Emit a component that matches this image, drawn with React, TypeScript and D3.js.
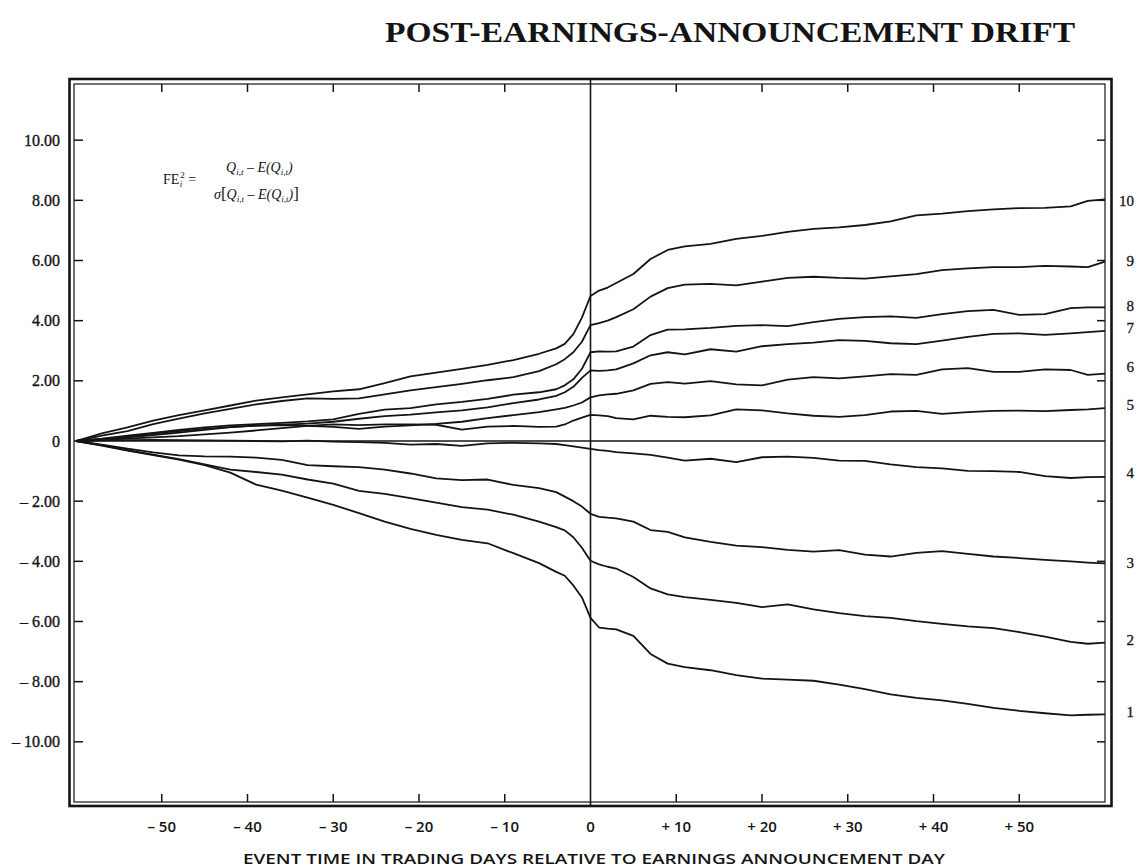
import React from "react";
import * as d3 from "d3";

// Event days (relative to earnings announcement day)
const days = [-60,-57,-54,-51,-48,-45,-42,-39,-36,-33,-30,-27,-24,-21,-18,-15,-12,-9,-6,-4,-3,-2,-1,0,1,2,3,5,7,9,11,14,17,20,23,26,29,32,35,38,41,44,47,50,53,56,58,60];

// Cumulative abnormal returns (%) by SUE portfolio
const p10 = [0,0.25,0.45,0.68,0.86,1.02,1.18,1.34,1.45,1.55,1.65,1.72,1.92,2.15,2.27,2.40,2.53,2.69,2.90,3.08,3.23,3.55,4.10,4.82,5.00,5.10,5.25,5.55,6.05,6.35,6.47,6.55,6.72,6.82,6.95,7.05,7.10,7.18,7.30,7.50,7.56,7.64,7.70,7.74,7.75,7.80,7.98,8.03];
const p9 = [0,0.18,0.33,0.56,0.74,0.92,1.07,1.22,1.33,1.42,1.40,1.42,1.55,1.68,1.79,1.90,2.02,2.12,2.32,2.55,2.72,2.95,3.30,3.85,3.92,4.00,4.12,4.38,4.80,5.08,5.20,5.22,5.17,5.30,5.42,5.46,5.42,5.40,5.47,5.55,5.68,5.74,5.78,5.78,5.82,5.80,5.78,5.96];
const p8 = [0,0.08,0.18,0.27,0.37,0.45,0.52,0.56,0.60,0.65,0.72,0.90,1.04,1.09,1.22,1.30,1.40,1.54,1.62,1.72,1.85,2.05,2.40,2.95,2.98,2.97,2.98,3.14,3.52,3.70,3.71,3.76,3.83,3.85,3.82,3.95,4.06,4.12,4.14,4.09,4.22,4.32,4.36,4.19,4.22,4.42,4.44,4.44];
const p7 = [0,0.06,0.15,0.25,0.33,0.40,0.46,0.51,0.54,0.58,0.64,0.74,0.83,0.88,0.95,1.02,1.12,1.26,1.38,1.50,1.62,1.80,2.10,2.35,2.33,2.35,2.38,2.58,2.85,2.95,2.88,3.05,2.97,3.15,3.22,3.27,3.35,3.33,3.25,3.22,3.34,3.46,3.56,3.58,3.53,3.58,3.62,3.66];
const p6 = [0,0.05,0.12,0.20,0.28,0.37,0.46,0.51,0.53,0.50,0.47,0.40,0.48,0.52,0.57,0.64,0.76,0.86,0.96,1.05,1.10,1.18,1.28,1.45,1.52,1.55,1.57,1.68,1.90,1.96,1.91,1.99,1.88,1.85,2.04,2.12,2.08,2.15,2.22,2.20,2.38,2.42,2.30,2.30,2.38,2.36,2.20,2.24];
const p5 = [0,0.04,0.08,0.12,0.16,0.22,0.28,0.35,0.43,0.50,0.55,0.53,0.55,0.55,0.54,0.38,0.48,0.50,0.47,0.48,0.55,0.68,0.78,0.87,0.85,0.83,0.76,0.72,0.84,0.80,0.79,0.85,1.05,1.02,0.92,0.84,0.80,0.86,0.98,1.00,0.90,0.96,1.00,1.01,0.99,1.03,1.05,1.09];
const p4 = [0,0.02,0.03,0.04,0.03,0.02,0.01,0.00,-0.01,0.01,-0.02,-0.04,-0.06,-0.12,-0.10,-0.16,-0.08,-0.06,-0.08,-0.10,-0.14,-0.18,-0.22,-0.26,-0.30,-0.33,-0.37,-0.41,-0.46,-0.55,-0.65,-0.59,-0.70,-0.54,-0.52,-0.56,-0.65,-0.66,-0.78,-0.87,-0.91,-0.99,-1.00,-1.03,-1.17,-1.23,-1.20,-1.19];
const p3 = [0,-0.12,-0.25,-0.38,-0.48,-0.51,-0.52,-0.55,-0.63,-0.80,-0.84,-0.87,-0.95,-1.08,-1.24,-1.30,-1.28,-1.46,-1.57,-1.70,-1.85,-2.00,-2.18,-2.42,-2.52,-2.55,-2.57,-2.68,-2.96,-3.02,-3.20,-3.35,-3.48,-3.53,-3.62,-3.68,-3.63,-3.78,-3.84,-3.72,-3.66,-3.75,-3.84,-3.89,-3.95,-4.00,-4.04,-4.07];
const p2 = [0,-0.14,-0.30,-0.45,-0.60,-0.78,-0.95,-1.03,-1.12,-1.28,-1.42,-1.66,-1.76,-1.90,-2.05,-2.20,-2.28,-2.45,-2.68,-2.86,-2.97,-3.20,-3.55,-3.98,-4.10,-4.18,-4.24,-4.52,-4.90,-5.10,-5.19,-5.28,-5.38,-5.52,-5.43,-5.60,-5.72,-5.82,-5.88,-5.99,-6.08,-6.16,-6.22,-6.35,-6.50,-6.68,-6.74,-6.70];
const p1 = [0,-0.15,-0.32,-0.47,-0.62,-0.80,-1.05,-1.45,-1.65,-1.88,-2.12,-2.40,-2.68,-2.92,-3.12,-3.29,-3.40,-3.73,-4.06,-4.35,-4.48,-4.80,-5.20,-5.88,-6.20,-6.24,-6.26,-6.48,-7.08,-7.40,-7.52,-7.62,-7.78,-7.90,-7.93,-7.97,-8.10,-8.25,-8.42,-8.54,-8.62,-8.74,-8.87,-8.97,-9.05,-9.12,-9.10,-9.09];

const portfolioNames = ["10", "9", "8", "7", "6", "5", "4", "3", "2", "1"];
const portfolioValues = [p10, p9, p8, p7, p6, p5, p4, p3, p2, p1];
// value at which each portfolio's label sits on the right margin
const labelAt = [8.0, 6.0, 4.5, 3.75, 2.46, 1.2, -1.06, -4.06, -6.6, -9.0];

const yTicks = [10, 8, 6, 4, 2, 0, -2, -4, -6, -8, -10];
const yTickLabels = ["10.00", "8.00", "6.00", "4.00", "2.00", "0", "\u2013 2.00", "\u2013 4.00", "\u2013 6.00", "\u2013 8.00", "\u2013 10.00"];
const xTicks = [-50, -40, -30, -20, -10, 0, 10, 20, 30, 40, 50];
const xTickLabels = ["\u2013 50", "\u2013 40", "\u2013 30", "\u2013 20", "\u2013 10", "0", "+ 10", "+ 20", "+ 30", "+ 40", "+ 50"];

const title = "POST-EARNINGS-ANNOUNCEMENT DRIFT";
const xTitle = "EVENT TIME IN TRADING DAYS RELATIVE TO EARNINGS ANNOUNCEMENT DAY";

export default function App() {
  const W = 1137, H = 867;
  const x = d3.scaleLinear().domain([-60, 60]).range([76, 1105]);
  const y = d3.scaleLinear().domain([-12, 12]).range([802, 80]);
  const line = d3.line<number>()
    .x((_, i) => x(days[i]))
    .y((v) => y(v))
    .curve(d3.curveLinear);

  const innerL = 74, innerR = 1105, innerT = 84, innerB = 802;
  const ink = "#141414";
  const serif = "'Liberation Serif', 'DejaVu Serif', serif";
  const sans = "'Open Sans', 'Lato', sans-serif";

  return (
    <svg width={W} height={H} viewBox={`0 0 ${W} ${H}`} style={{ position: "absolute", left: 0, top: 0, background: "#fff" }}>
      <rect x={0} y={0} width={W} height={H} fill="#fff" />
      {/* Title */}
      <text x={385} y={42} fontFamily={serif} fontSize={30} fontWeight={700} fill={ink}
        textLength={690} lengthAdjust="spacingAndGlyphs">{title}</text>

      {/* frame (double line) */}
      <rect x={69.5} y={79} width={1042} height={727} fill="none" stroke={ink} strokeWidth={2.6} />
      <rect x={innerL} y={innerT} width={innerR - innerL} height={innerB - innerT} fill="none" stroke={ink} strokeWidth={1.2} />

      {/* y ticks left & right */}
      {yTicks.filter((t) => t !== 0).map((t) => (
        <g key={"yt" + t}>
          <line x1={innerL} x2={innerL + 9} y1={y(t)} y2={y(t)} stroke={ink} strokeWidth={1.5} />
          <line x1={innerR - 8} x2={innerR} y1={y(t)} y2={y(t)} stroke={ink} strokeWidth={1.5} />
        </g>
      ))}
      {yTicks.map((t, i) => (
        <text key={"yl" + t} x={60} y={y(t)} dy="0.35em" textAnchor="end" fontFamily={serif}
          fontSize={16} fill={ink} stroke={ink} strokeWidth={0.35}>{yTickLabels[i]}</text>
      ))}

      {/* x ticks top & bottom */}
      {xTicks.filter((t) => t !== 0).map((t) => (
        <g key={"xt" + t}>
          <line x1={x(t)} x2={x(t)} y1={innerT} y2={innerT + 8} stroke={ink} strokeWidth={1.5} />
          <line x1={x(t)} x2={x(t)} y1={innerB} y2={innerB - 8} stroke={ink} strokeWidth={1.5} />
        </g>
      ))}
      {xTicks.map((t, i) => (
        <text key={"xl" + t} x={x(t)} y={832} textAnchor="middle" fontFamily={sans}
          fontSize={15} fontWeight={600} fill={ink}>{xTickLabels[i]}</text>
      ))}
      <text x={594} y={864} textAnchor="middle" fontFamily={sans} fontSize={15} fontWeight={600} fill={ink}
        textLength={702} lengthAdjust="spacingAndGlyphs">{xTitle}</text>

      {/* reference lines */}
      <line x1={x(0)} x2={x(0)} y1={innerT - 4} y2={innerB + 4} stroke={ink} strokeWidth={1.6} />
      <line x1={innerL} x2={innerR} y1={y(0)} y2={y(0)} stroke={ink} strokeWidth={1.6} />

      {/* portfolio lines */}
      {portfolioValues.map((vals, k) => (
        <path key={"s" + k} d={line(vals) || ""} fill="none" stroke={ink} strokeWidth={1.8}
          strokeLinejoin="round" />
      ))}

      {/* right labels */}
      {portfolioNames.map((n, k) => (
        <text key={"pl" + n} x={1134} y={y(labelAt[k])} dy="0.35em" textAnchor="end"
          fontFamily={serif} fontSize={15} fill={ink} stroke={ink} strokeWidth={0.3}>{n}</text>
      ))}

      {/* formula */}
      <g fontFamily={serif} fill={ink} fontSize={14}>
        <text x={163} y={184}>FE<tspan dx={1} dy={-6} fontSize={9}>2</tspan><tspan dx={-5} dy={9} fontSize={9} fontStyle="italic">i</tspan><tspan dx={6} dy={-3}>=</tspan></text>
        <text x={226} y={172} fontStyle="italic">Q<tspan fontSize={9} dy={3}>i,t</tspan><tspan dy={-3}> {"\u2013"} E(Q</tspan><tspan fontSize={9} dy={3}>i,t</tspan><tspan dy={-3}>)</tspan></text>
        <text x={214} y={199} fontStyle="italic">{"\u03C3"}<tspan fontStyle="normal" fontSize={17}>[</tspan>Q<tspan fontSize={9} dy={3}>i,t</tspan><tspan dy={-3}> {"\u2013"} E(Q</tspan><tspan fontSize={9} dy={3}>i,t</tspan><tspan dy={-3}>)</tspan><tspan fontStyle="normal" fontSize={17}>]</tspan></text>
      </g>
    </svg>
  );
}
